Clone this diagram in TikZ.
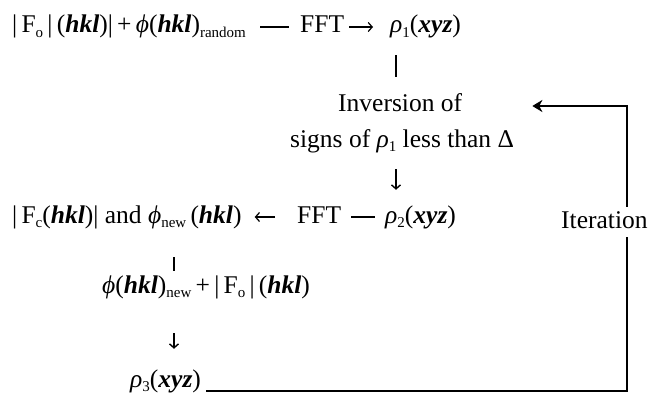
\documentclass[tikz,border=0pt]{standalone}
\usepackage{fontspec}
\setmainfont{Liberation Serif}
\usetikzlibrary{arrows.meta,positioning}
\newcommand{\sub}[1]{\raisebox{-4.5pt}{\fontsize{15}{15}\selectfont #1}}
\newcommand{\hkl}{(\textbf{\textit{hkl}})}
\newcommand{\xyz}{(\textbf{\textit{xyz}})}
\newcommand{\rh}{\textit{ρ}}
\newcommand{\ph}{\textit{ϕ}}

\begin{document}
\begin{tikzpicture}[
    x=1pt, y=-1pt,
    font=\fontsize{25.5}{30}\selectfont,
    term/.style={anchor=base west,inner sep=0pt,text height=18pt,text depth=6pt},
    link/.style={line width=1.2pt,shorten <=12pt,shorten >=12pt},
    arr/.style={link,-{Straight Barb[length=4pt,width=9pt]}},
    vlink/.style={line width=1.4pt},
    varr/.style={vlink,-{Straight Barb[length=4pt,width=9pt]}},
    back/.style={line width=2.2pt,-{Stealth[length=10pt,width=12pt,inset=3pt]}},
  ]
    \useasboundingbox (0,0) rectangle (649,396);

    \node[term] (src)  at (12,33)  {|\,F\sub{o}\,|\,\hkl|\,+\,\ph\hkl\sub{random}};
    \node[term] (fft1) at (300,33) {FFT};
    \node[term] (rho1) at (390,33) {\rh\sub{1}\xyz};
    \node[term] (inv1) at (338,112) {Inversion of};
    \node[term] (inv2) at (290,147) {signs of \rh\sub{1} less than Δ};
    \node[term] (fc)   at (12,223) {|\,F\sub{c}\hkl| and \ph\sub{new}\,\hkl};
    \node[term] (fft2) at (297,223) {FFT};
    \node[term] (rho2) at (385,223) {\rh\sub{2}\xyz};
    \node[term] (phn)  at (102,293) {\ph\hkl\sub{new}\,+\,|\,F\sub{o}\,|\,\hkl};
    \node[term] (rho3) at (130,387) {\rh\sub{3}\xyz};
    \coordinate (upcol)  at (396,0);
    \coordinate (lowcol) at (174,0);
    \coordinate (turn)   at (627,0);

    \draw[link,shorten <=14pt,shorten >=11pt] (src) -- (fft1);
    \draw[arr,shorten <=5pt,shorten >=17pt] (fft1) -- (rho1);
    \draw[vlink,shorten <=16pt,shorten >=17pt] (rho1.south -| upcol) -- (inv1.north -| upcol);
    \draw[varr,shorten <=16pt,shorten >=15pt] (inv2.south -| upcol) -- (rho2.north -| upcol);
    \draw[link,shorten <=10pt,shorten >=10pt] (fft2) -- (rho2);
    \draw[arr,shorten <=22pt,shorten >=13pt] (fft2) -- (fc);
    \draw[vlink,shorten <=28pt,shorten >=4pt] (fc.south -| lowcol) -- (phn.north -| lowcol);
    \draw[varr,shorten <=34pt,shorten >=20pt] (phn.south -| lowcol) -- (rho3.north -| lowcol);
    \draw[back,shorten <=5pt,shorten >=70pt] ([yshift=-4pt]rho3.base east) -- ([yshift=-4pt]rho3.base east -| turn)
      -- (inv1.east -| turn) -- (inv1.east);
    \node[term,fill=white,inner ysep=3pt,inner xsep=1pt] (iter) at (560,228) {Iteration};
  \end{tikzpicture}
\end{document}
